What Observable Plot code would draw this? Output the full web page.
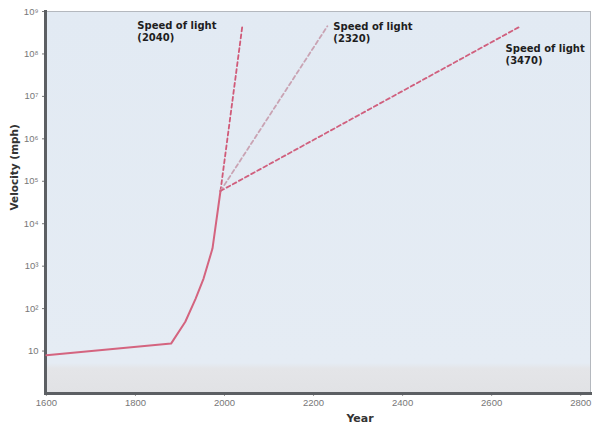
<!DOCTYPE html>
<html><head><meta charset="utf-8">
<script src="https://cdn.jsdelivr.net/npm/d3@7"></script>
<script src="https://cdn.jsdelivr.net/npm/@observablehq/plot@0.6"></script>
<style>body{margin:0;background:#fff;}</style>
</head><body>
<svg width="0" height="0" style="position:absolute"><defs>
<linearGradient id="bg" x1="0" y1="0" x2="0" y2="1">
<stop offset="0" stop-color="#e2eaf3"/><stop offset="0.92" stop-color="#e5ecf4"/>
<stop offset="0.935" stop-color="#e4e5e8"/><stop offset="1" stop-color="#e1e2e5"/>
</linearGradient></defs></svg>
<div id="chart"></div>
<script>
// observed velocity history
const years = [1600, 1880, 1912, 1935, 1953, 1973, 1991];
const speeds = [8, 15, 49, 170, 510, 2600, 59000];
// projections to speed of light
const projYears = [2040, 2231, 2665];
const projLabels = ["Speed of light\n(2040)", "Speed of light\n(2320)", "Speed of light\n(3470)"];
const endSpeed = 4.5e8;
const xTicks = [1600, 1800, 2000, 2200, 2400, 2600, 2800];
const yTicks = [10, 1e2, 1e3, 1e4, 1e5, 1e6, 1e7, 1e8, 1e9];
const yTickLabels = ["10", "10²", "10³", "10⁴", "10⁵", "10⁶", "10⁷", "10⁸", "10⁹"];

const hist = years.map((x, i) => ({x, y: speeds[i]}));
const start = hist[hist.length - 1];
const proj = projYears.flatMap((x, i) => [{x: start.x, y: start.y, s: i}, {x, y: endSpeed, s: i}]);
const ends = projYears.map((x, i) => ({x, y: endSpeed, label: projLabels[i]}));
const lineColors = ["#d05a78", "#c9a3b3", "#d0607e"];
const bold = "'DejaVu Sans', Verdana, sans-serif";

const chart = Plot.plot({
  width: 593, height: 433,
  marginLeft: 45, marginRight: 3, marginTop: 11, marginBottom: 40,
  style: {fontFamily: "'Liberation Sans', Arial, sans-serif", fontSize: "9.5px", color: "#777", background: "transparent"},
  x: {domain: [1598, 2822], label: null},
  y: {type: "log", domain: [1, 1e9], label: null},
  marks: [
    Plot.frame({fill: "url(#bg)", stroke: "#b4b8be"}),
    Plot.axisX({ticks: xTicks, tickFormat: d => String(d), tickSize: 3, tickPadding: 3, stroke: "#999", fill: "#777"}),
    Plot.axisY({ticks: yTicks, tickFormat: d => yTickLabels[yTicks.indexOf(d)], tickSize: 3, tickPadding: 4, fill: "#777"}),
    Plot.frame({anchor: "left", stroke: "#5c5f63", strokeWidth: 3}),
    Plot.frame({anchor: "bottom", stroke: "#5c5f63", strokeWidth: 3}),
    Plot.line(hist, {x: "x", y: "y", stroke: "#d4647f", strokeWidth: 2}),
    Plot.line(proj, {x: "x", y: "y", z: "s", stroke: d => lineColors[d.s], strokeWidth: 1.8, strokeDasharray: "4,3"}),
    Plot.text([ends[0]], {x: "x", y: "y", text: "label", textAnchor: "start", dx: -105, dy: 5, lineAnchor: "middle", fontFamily: bold, fontWeight: "bold", fontSize: 10, fill: "#1e1e1e", lineHeight: 1.25}),
    Plot.text([ends[1]], {x: "x", y: "y", text: "label", textAnchor: "start", dx: 6, dy: 6, lineAnchor: "middle", fontFamily: bold, fontWeight: "bold", fontSize: 10, fill: "#1e1e1e", lineHeight: 1.25}),
    Plot.text([ends[2]], {x: "x", y: "y", text: "label", textAnchor: "start", dx: -15, dy: 28, lineAnchor: "middle", fontFamily: bold, fontWeight: "bold", fontSize: 10, fill: "#1e1e1e", lineHeight: 1.25}),
    Plot.text(["Year"], {frameAnchor: "bottom", dx: 42, dy: 28, fontFamily: bold, fontWeight: "bold", fontSize: 11, fill: "#333"}),
    Plot.text(["Velocity (mph)"], {frameAnchor: "left", dx: -31, dy: 8, rotate: -90, fontFamily: bold, fontWeight: "bold", fontSize: 10.5, fill: "#333"})
  ]
});
document.getElementById("chart").append(chart);
</script>
</body></html>
